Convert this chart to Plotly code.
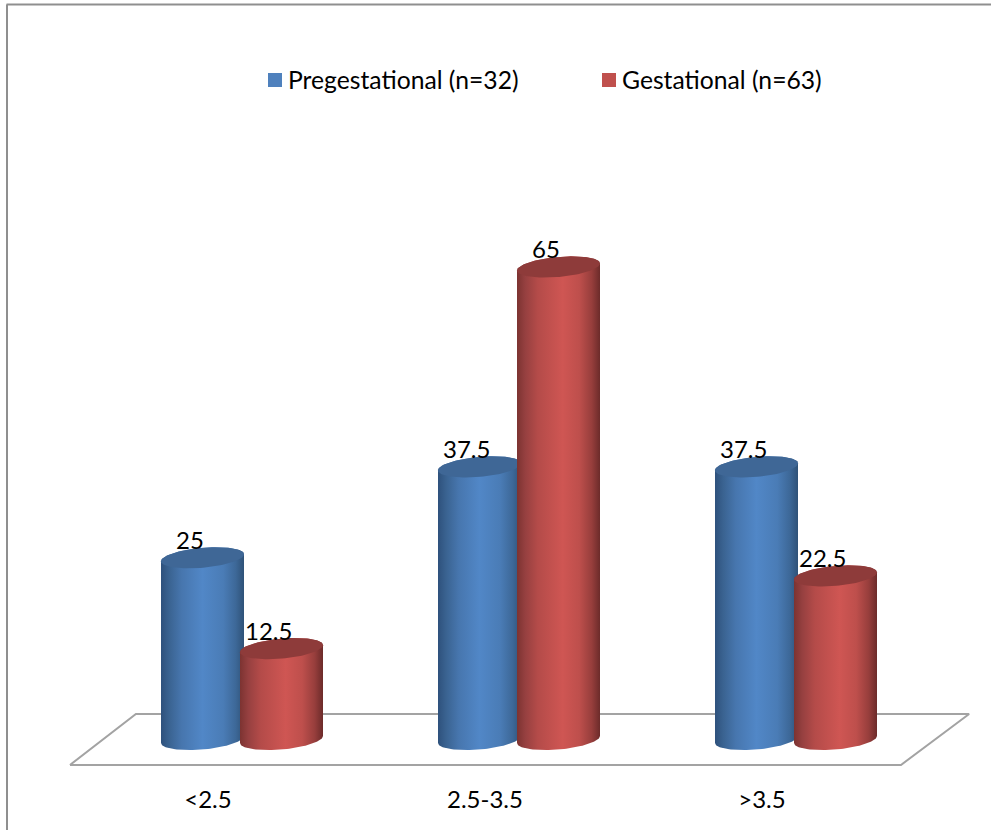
import numpy as np
import plotly.graph_objects as go

# Birth-weight groups and percentage of each diabetes group
categories = ["<2.5", "2.5-3.5", ">3.5"]
series_names = ["Pregestational (n=32)", "Gestational (n=63)"]
pregestational = [25, 37.5, 37.5]
gestational = [12.5, 65, 22.5]

FONT = dict(family="Lato, Carlito, sans-serif", size=24, color="#000000")
KEY_FONT = dict(family="Lato, Carlito, sans-serif", size=24.7, color="#000000")
W, H = 991, 830
PX_PER_GROUP = 277.0
PX_PER_UNIT = 7.27
GROUP0_PX = 242.0
BASE_PX = 739.5
AXIS_BOTTOM_PX = 780.0

HALF_W = 41.5 / PX_PER_GROUP
BAR_OFFSET = 39.5 / PX_PER_GROUP
ELL_B = 10.0 / PX_PER_UNIT
ELL_TILT = 3.5 / PX_PER_UNIT

BLUE_RAMP = [[0, "#2E517C"], [0.1, "#3A6391"], [0.25, "#4776AE"], [0.5, "#5187C7"],
             [0.75, "#4A7CB6"], [0.9, "#3D6898"], [1, "#2F5278"]]
RED_RAMP = [[0, "#7C3331"], [0.1, "#964040"], [0.25, "#B44B49"], [0.55, "#CF5653"],
            [0.75, "#BE4F4C"], [0.9, "#973E3C"], [1, "#6C2B2A"]]
BLUE_TOP, RED_TOP = "#3F6796", "#8E3B3A"
BLUE_KEY, RED_KEY = "#4F81BD", "#C0504D"
GRID_GREY = "#A3A3A3"

fig = go.Figure()

# Floor of the pseudo-3D plot, spanning +/-3.5 units around the baseline
fig.add_trace(go.Scatter(
    x=[-0.621, 2.379, 2.625, -0.383, -0.621],
    y=[-3.5, -3.5, 3.5, 3.5, -3.5],
    mode="lines", line=dict(color=GRID_GREY, width=2),
    hoverinfo="skip", showlegend=False,
))


def ellipse_arc(cx, level, t0, t1, n=60):
    t = np.linspace(t0, t1, n)
    return cx + HALF_W * np.cos(t), level + ELL_B * np.sin(t) + ELL_TILT * np.cos(t)


def cylinder(cx, value, ramp, cap, name):
    bx, by = ellipse_arc(cx, 0.0, np.pi, 2 * np.pi)
    tx, ty = ellipse_arc(cx, value, 0.0, np.pi)
    fig.add_trace(go.Scatter(
        x=np.r_[bx, tx, bx[0]], y=np.r_[by, ty, by[0]],
        mode="lines", line=dict(width=0), fill="toself",
        fillgradient=dict(type="horizontal", colorscale=ramp),
        name=name, hoverinfo="skip", showlegend=False,
    ))
    ex, ey = ellipse_arc(cx, value, 0.0, 2 * np.pi, 90)
    fig.add_trace(go.Scatter(
        x=ex, y=ey, mode="lines", line=dict(width=0), fill="toself",
        fillcolor=cap, name=name, hoverinfo="skip", showlegend=False,
    ))


annotations = []
for g, (p, q) in enumerate(zip(pregestational, gestational)):
    cylinder(g - BAR_OFFSET, p, BLUE_RAMP, BLUE_TOP, series_names[0])
    cylinder(g + BAR_OFFSET, q, RED_RAMP, RED_TOP, series_names[1])
    for cx, v in ((g - BAR_OFFSET, p), (g + BAR_OFFSET, q)):
        annotations.append(dict(
            x=cx, y=v, xref="x", yref="y", text=str(v), showarrow=False,
            xanchor="center", yanchor="middle", xshift=-13, yshift=18, font=FONT,
        ))

# Series key along the top of the chart
key_rows = [(series_names[0], BLUE_KEY, 268, 286), (series_names[1], RED_KEY, 602, 620)]
shapes = []
for label, colour, sw_px, text_px in key_rows:
    shapes.append(dict(
        type="rect", xref="paper", yref="paper", line=dict(width=0), fillcolor=colour,
        x0=sw_px / W, x1=(sw_px + 14) / W, y0=1 - 87 / H, y1=1 - 73 / H,
    ))
    annotations.append(dict(
        x=text_px / W, y=1 - 80 / H, xref="paper", yref="paper", text=label,
        showarrow=False, xanchor="left", yanchor="middle", font=KEY_FONT,
    ))

# Chart-area border: top and left edges only
border = dict(color="#8F8F8F", width=2)
shapes.append(dict(type="line", xref="paper", yref="paper", x0=6.5 / W, x1=1, y0=1 - 4.5 / H, y1=1 - 4.5 / H, line=border))
shapes.append(dict(type="line", xref="paper", yref="paper", x0=7 / W, x1=7 / W, y0=0, y1=1 - 4.5 / H, line=border))

fig.update_layout(
    width=W, height=H, margin=dict(l=0, r=0, t=0, b=0),
    paper_bgcolor="#FFFFFF", plot_bgcolor="rgba(0,0,0,0)",
    showlegend=False, annotations=annotations, shapes=shapes, font=FONT,
    xaxis=dict(
        range=[-GROUP0_PX / PX_PER_GROUP, (W - GROUP0_PX) / PX_PER_GROUP],
        tickmode="array", tickvals=[g - 34 / PX_PER_GROUP for g in range(len(categories))],
        ticktext=categories, ticks="", showgrid=False, zeroline=False, showline=False,
        tickfont=FONT, ticklabelstandoff=3,
    ),
    yaxis=dict(
        domain=[1 - AXIS_BOTTOM_PX / H, 1],
        range=[(BASE_PX - AXIS_BOTTOM_PX) / PX_PER_UNIT, BASE_PX / PX_PER_UNIT],
        visible=False, showgrid=False, zeroline=False,
    ),
)

fig.write_html("out.html", config=dict(displayModeBar=False))
